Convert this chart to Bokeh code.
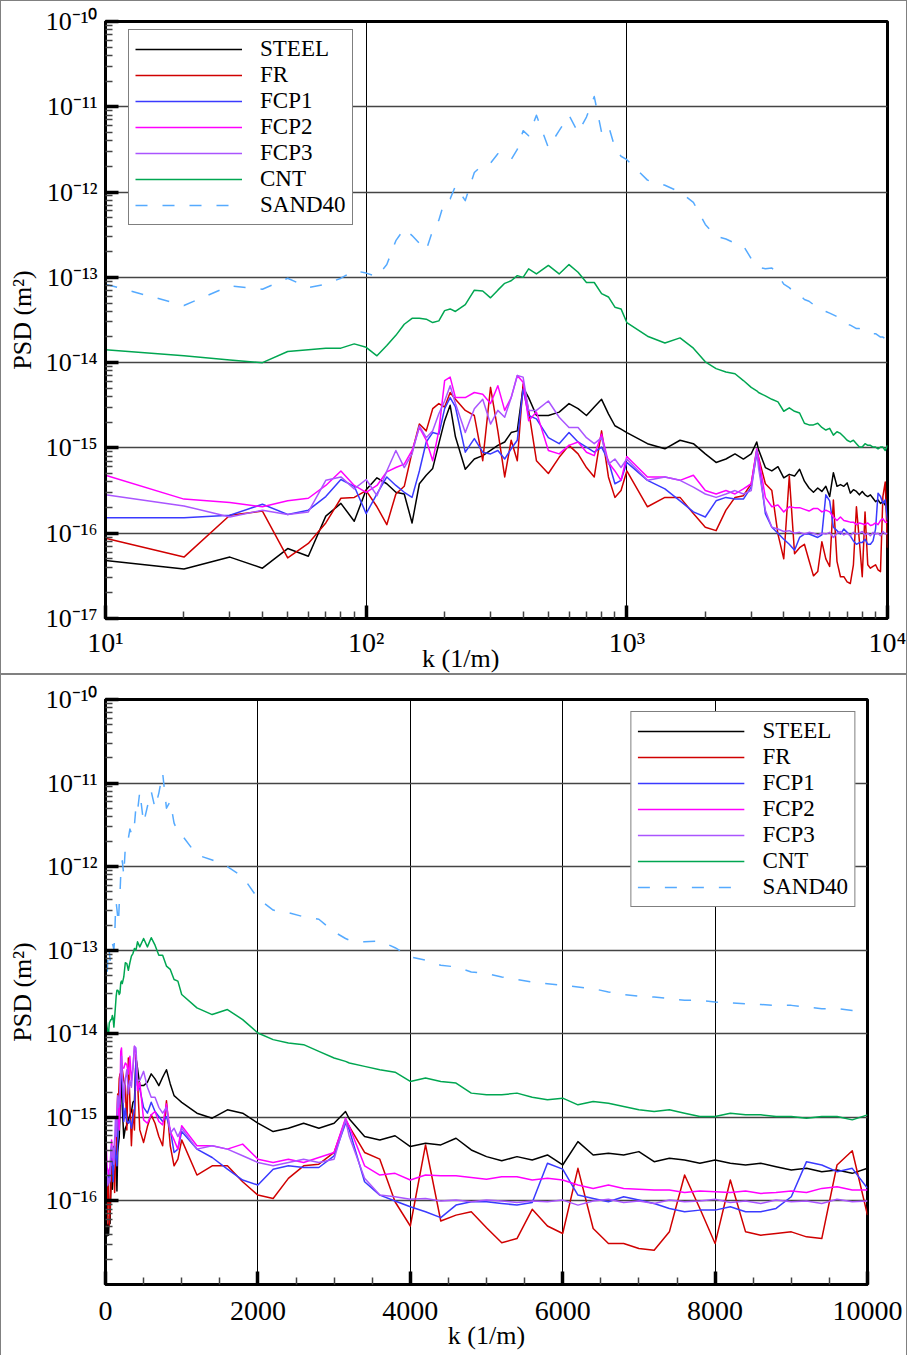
import numpy as np
from bokeh.plotting import figure
from bokeh.models import FixedTicker, CustomJSTickFormatter, Legend, LegendItem
from bokeh.embed import file_html
from bokeh.resources import INLINE

# wavenumber k (1/m)
K = [10, 20, 30, 40, 50, 60, 70, 80, 90, 100,
     110, 120, 130, 140, 150, 160, 170, 180, 190, 200,
     210, 220, 240, 260, 280, 300, 320, 340, 360, 380,
     400, 420, 450, 500, 550, 600, 650, 700, 750, 800,
     850, 900, 950, 1000, 1200, 1400, 1600, 1800, 2000, 2200,
     2400, 2600, 2800, 3000, 3150, 3200, 3400, 3600, 3800, 4000,
     4200, 4400, 4600, 4800, 5000, 5200, 5400, 5600, 5800, 6000,
     6200, 6400, 6600, 6800, 7000, 7200, 7400, 7600, 7800, 8000,
     8200, 8400, 8600, 8800, 9000, 9200, 9400, 9600, 9800, 10000]

# log10 of PSD (m^2)
STEEL = [-16.32, -16.42, -16.28, -16.41, -16.18, -16.27, -15.80, -15.65, -15.86, -15.49,
         -15.35, -15.42, -15.52, -15.54, -15.88, -15.42, -15.32, -15.24, -14.95, -14.68,
         -14.50, -14.87, -15.25, -15.13, -15.09, -15.03, -14.97, -14.93, -14.82, -14.80,
         -14.29, -14.41, -14.62, -14.62, -14.58, -14.48, -14.54, -14.62, -14.52, -14.43,
         -14.60, -14.74, -14.78, -14.82, -14.95, -15.01, -14.91, -14.95, -15.07, -15.17,
         -15.13, -15.07, -15.13, -15.07, -14.93, -15.02, -15.23, -15.27, -15.22, -15.35,
         -15.31, -15.33, -15.25, -15.39, -15.47, -15.52, -15.47, -15.51, -15.45, -15.57,
         -15.29, -15.45, -15.43, -15.45, -15.41, -15.53, -15.49, -15.51, -15.55, -15.51,
         -15.55, -15.57, -15.55, -15.59, -15.63, -15.61, -15.65, -15.63, -15.67, -15.61]

FR = [-16.06, -16.28, -15.79, -15.74, -16.29, -16.12, -15.88, -15.59, -15.58, -15.50,
      -15.69, -15.90, -15.54, -15.45, -15.05, -14.72, -14.80, -14.54, -14.48, -14.52,
      -14.35, -14.43, -14.56, -14.62, -15.15, -14.29, -14.80, -15.34, -14.91, -15.15,
      -14.25, -14.56, -15.15, -15.30, -15.11, -14.97, -15.07, -15.23, -15.34, -14.80,
      -15.34, -15.58, -15.50, -15.27, -15.69, -15.58, -15.58, -15.77, -15.93, -15.97,
      -15.73, -15.58, -15.56, -15.42, -15.03, -15.11, -15.42, -15.50, -16.01, -16.30,
      -15.33, -16.24, -16.17, -16.13, -16.32, -16.50, -16.45, -16.10, -16.30, -16.39,
      -15.61, -16.33, -16.51, -16.51, -16.57, -16.59, -16.37, -15.69, -16.09, -16.51,
      -15.75, -16.37, -16.41, -16.39, -16.37, -16.43, -16.45, -15.57, -15.40, -16.17]

FCP1 = [-15.82, -15.82, -15.79, -15.66, -15.78, -15.73, -15.57, -15.37, -15.45, -15.77,
        -15.54, -15.34, -15.44, -15.52, -15.58, -15.27, -14.93, -14.82, -14.84, -14.54,
        -14.41, -14.52, -15.05, -14.89, -15.05, -15.07, -15.03, -15.13, -15.01, -14.91,
        -14.31, -14.62, -14.66, -14.88, -14.95, -14.82, -14.93, -14.99, -15.05, -14.99,
        -15.15, -15.42, -15.38, -15.17, -15.38, -15.48, -15.62, -15.75, -15.81, -15.62,
        -15.58, -15.60, -15.60, -15.46, -15.07, -15.15, -15.77, -15.93, -16.00, -16.07,
        -16.13, -16.20, -16.05, -16.01, -16.01, -16.03, -16.05, -16.02, -15.55, -15.62,
        -15.93, -15.97, -16.01, -15.95, -15.99, -16.03, -16.09, -16.13, -16.11, -16.11,
        -16.07, -16.13, -16.13, -16.09, -15.95, -15.53, -15.57, -15.65, -15.61, -15.85]

FCP2 = [-15.32, -15.60, -15.64, -15.69, -15.62, -15.59, -15.44, -15.27, -15.44, -15.52,
        -15.44, -15.28, -15.23, -15.19, -15.03, -14.76, -14.91, -15.15, -14.80, -14.21,
        -14.17, -14.41, -14.41, -14.35, -14.37, -14.48, -14.27, -14.56, -14.41, -14.15,
        -14.23, -14.68, -14.58, -15.03, -15.07, -14.97, -14.93, -15.05, -15.09, -14.84,
        -15.17, -15.27, -15.38, -15.10, -15.34, -15.34, -15.38, -15.32, -15.50, -15.54,
        -15.50, -15.54, -15.48, -15.42, -15.01, -15.11, -15.58, -15.69, -15.67, -15.75,
        -15.69, -15.70, -15.70, -15.72, -15.74, -15.71, -15.71, -15.75, -15.73, -15.75,
        -15.81, -15.85, -15.81, -15.85, -15.86, -15.87, -15.87, -15.90, -15.88, -15.89,
        -15.90, -15.88, -15.91, -15.90, -15.88, -15.90, -15.85, -15.83, -15.87, -15.87]

FCP3 = [-15.55, -15.68, -15.81, -15.73, -15.78, -15.75, -15.38, -15.34, -15.48, -15.37,
        -15.56, -15.27, -15.03, -15.23, -15.07, -14.74, -14.88, -14.80, -14.60, -14.45,
        -14.27, -14.48, -14.82, -14.54, -14.43, -14.72, -14.56, -14.64, -14.41, -14.15,
        -14.17, -14.56, -14.56, -14.45, -14.64, -14.76, -14.76, -14.88, -14.95, -14.88,
        -15.19, -15.13, -15.23, -15.13, -15.38, -15.34, -15.38, -15.46, -15.54, -15.58,
        -15.54, -15.50, -15.54, -15.50, -15.03, -15.23, -15.73, -15.93, -15.95, -15.98,
        -15.97, -16.00, -15.99, -16.01, -15.99, -16.00, -16.02, -16.00, -16.01, -15.99,
        -16.05, -16.00, -15.98, -16.02, -16.00, -16.03, -15.99, -16.01, -16.00, -15.98,
        -16.02, -16.00, -16.03, -15.99, -16.01, -16.00, -16.03, -15.98, -16.01, -16.00]

CNT = [-13.85, -13.92, -13.97, -14.00, -13.87, -13.85, -13.83, -13.83, -13.78, -13.82,
       -13.92, -13.80, -13.68, -13.55, -13.48, -13.48, -13.49, -13.53, -13.51, -13.39,
       -13.37, -13.40, -13.32, -13.15, -13.16, -13.24, -13.15, -13.07, -13.04, -12.98,
       -13.00, -12.90, -12.96, -12.86, -12.96, -12.85, -12.94, -13.06, -13.06, -13.19,
       -13.23, -13.35, -13.37, -13.53, -13.69, -13.77, -13.71, -13.83, -13.99, -14.07,
       -14.11, -14.13, -14.21, -14.29, -14.33, -14.35, -14.39, -14.43, -14.46, -14.57,
       -14.53, -14.57, -14.59, -14.71, -14.73, -14.73, -14.71, -14.76, -14.79, -14.77,
       -14.85, -14.81, -14.83, -14.87, -14.91, -14.93, -14.91, -14.95, -14.99, -14.99,
       -14.95, -14.97, -14.97, -14.99, -14.99, -15.01, -14.99, -14.99, -15.03, -14.97]

SAND40 = [-13.08, -13.33, -13.10, -13.14, -13.01, -13.12, -13.08, -13.01, -12.92, -12.95,
          -12.99, -12.85, -12.57, -12.43, -12.51, -12.60, -12.68, -12.45, -12.33, -12.10,
          -12.08, -11.93, -12.10, -11.77, -11.68, -11.66, -11.55, -11.60, -11.62, -11.50,
          -11.28, -11.34, -11.10, -11.48, -11.28, -11.10, -11.30, -11.12, -10.88, -11.30,
          -11.22, -11.48, -11.58, -11.62, -11.86, -11.92, -12.00, -12.12, -12.38, -12.52,
          -12.55, -12.60, -12.63, -12.78, -12.86, -12.88, -12.90, -12.89, -12.97, -13.08,
          -13.12, -13.18, -13.20, -13.26, -13.28, -13.32, -13.35, -13.38, -13.40, -13.42,
          -13.44, -13.46, -13.50, -13.53, -13.55, -13.56, -13.58, -13.60, -13.60, -13.62,
          -13.63, -13.64, -13.65, -13.66, -13.66, -13.68, -13.70, -13.70, -13.72, -13.74]

NAMES = ["STEEL", "FR", "FCP1", "FCP2", "FCP3", "CNT", "SAND40"]
SERIES = [STEEL, FR, FCP1, FCP2, FCP3, CNT, SAND40]
COLORS = ["#000000", "#d00000", "#3a3aff", "#ff00ff", "#aa55ff", "#00a651", "#55aaff"]
DASHES = ["solid", "solid", "solid", "solid", "solid", "solid", "12 15"]

FONT = "Liberation Serif"

SUP_JS = """
const m = {"-": "\u207b", "0": "\u2070", "1": "\u00b9", "2": "\u00b2", "3": "\u00b3",
           "4": "\u2074", "5": "\u2075", "6": "\u2076", "7": "\u2077", "8": "\u2078", "9": "\u2079"};
const e = Math.round(Math.log10(tick));
return "10" + String(e).split("").map(c => m[c]).join("");
"""


def decade_ticks(lo, hi):
    return [10.0 ** e for e in range(lo, hi + 1)]


def decade_minor(lo, hi):
    return [m * 10.0 ** e for e in range(lo, hi) for m in range(2, 10)]


def style_axes(p, xt, yt):
    for ax in (p.xaxis, p.yaxis):
        ax.axis_line_width = 3
        ax.axis_line_color = "black"
        ax.major_tick_in = 13
        ax.major_tick_out = 0
        ax.major_tick_line_width = 3.5
        ax.major_tick_line_color = "black"
        ax.minor_tick_in = 7
        ax.minor_tick_out = 0
        ax.minor_tick_line_width = 1.5
        ax.minor_tick_line_color = "#444444"
        ax.major_label_text_font = FONT
        ax.major_label_text_color = "black"
        ax.axis_label_text_font = FONT
        ax.axis_label_text_font_style = "normal"
        ax.axis_label_text_color = "black"
        ax.axis_label_text_font_size = "26px"
    p.xaxis.major_label_text_font_size = "28px"
    p.yaxis.major_label_text_font_size = "26px"
    p.xaxis.ticker = xt
    p.xgrid.ticker = xt
    p.yaxis.ticker = yt
    p.ygrid.ticker = yt
    p.yaxis.formatter = CustomJSTickFormatter(code=SUP_JS)
    p.yaxis.major_label_standoff = 8
    p.yaxis.axis_label = "PSD (m\u00b2)"
    p.yaxis.axis_label_standoff = 6
    p.xgrid.grid_line_color = "black"
    p.xgrid.grid_line_width = 1
    p.ygrid.grid_line_color = "#444444"
    p.ygrid.grid_line_width = 1.4
    p.outline_line_color = "black"
    p.outline_line_width = 3
    p.outline_line_alpha = 1
    p.background_fill_color = "white"
    p.border_fill_color = "white"
    p.styles = {"border": "1px solid #808080"}


def add_lines(p, location, margin):
    items = []
    for name, vals, col, dash in zip(NAMES, SERIES, COLORS, DASHES):
        r = p.line(K, 10.0 ** np.array(vals), line_color=col, line_width=1.5,
                   line_dash=dash, line_join="round")
        items.append(LegendItem(label=name, renderers=[r]))
    leg = Legend(items=items, location=location, margin=margin,
                 label_text_font=FONT, label_text_font_size="23px",
                 label_text_color="black",
                 glyph_width=107, glyph_height=20, label_height=20,
                 label_standoff=18, spacing=0, padding=6,
                 border_line_color="black", border_line_width=1,
                 background_fill_color="white", background_fill_alpha=1)
    p.add_layout(leg)


# ---- top panel: log-log ----
p1 = figure(width=907, height=674, x_axis_type="log", y_axis_type="log",
            x_range=(10, 1e4), y_range=(1e-17, 1e-10),
            min_border_left=104, min_border_right=21, min_border_top=20, min_border_bottom=57,
            output_backend="svg", toolbar_location=None)
xt1 = FixedTicker(ticks=decade_ticks(1, 4), minor_ticks=decade_minor(1, 4))
yt1 = FixedTicker(ticks=decade_ticks(-17, -10), minor_ticks=decade_minor(-17, -10))
style_axes(p1, xt1, yt1)
p1.xaxis.formatter = CustomJSTickFormatter(code=SUP_JS)
p1.xaxis.major_label_standoff = 8
p1.xaxis.axis_label = "k (1/m)" + "\u00a0" * 11
p1.xaxis.axis_label_standoff = -17
add_lines(p1, (23, 393), 0)

# ---- bottom panel: linear k, log PSD ----
p2 = figure(width=907, height=682, y_axis_type="log",
            x_range=(0, 10000), y_range=(1e-17, 1e-10),
            min_border_left=104, min_border_right=41, min_border_top=24, min_border_bottom=73,
            output_backend="svg", toolbar_location=None)
xt2 = FixedTicker(ticks=list(range(0, 10001, 2000)),
                  minor_ticks=[v for v in range(500, 10000, 500) if v % 2000])
yt2 = FixedTicker(ticks=decade_ticks(-16, -10), minor_ticks=decade_minor(-17, -10))
style_axes(p2, xt2, yt2)
p2.xaxis.major_label_standoff = 17
p2.xaxis.axis_label = "k (1/m)"
p2.xaxis.axis_label_standoff = -2
add_lines(p2, "top_right", 12)

open("out.html", "w").write(file_html([p1, p2], INLINE))
